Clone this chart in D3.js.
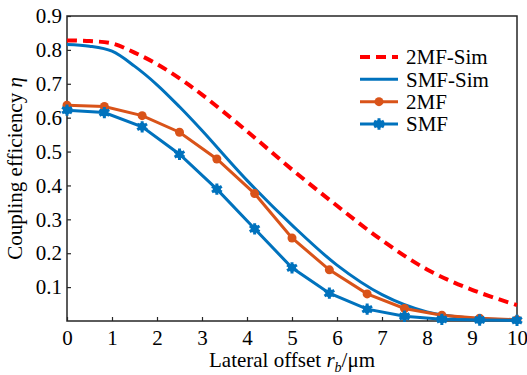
<!DOCTYPE html>
<html>
<head>
<meta charset="utf-8">
<script src="https://cdn.jsdelivr.net/npm/d3@7"></script>
<style>
  body { margin: 0; background: #fff; }
  svg { display: block; }
</style>
</head>
<body>
<div id="chart"></div>
<script>
// simulated curves
const simX = [0, 0.5, 1, 1.5, 2, 2.5, 3, 4, 5, 6, 7, 8, 9, 10]
const mf2Sim = [0.828, 0.826, 0.819, 0.792, 0.758, 0.716, 0.668, 0.56, 0.447, 0.34, 0.238, 0.152, 0.092, 0.047]
const smfSim = [0.816, 0.811, 0.796, 0.752, 0.697, 0.632, 0.562, 0.415, 0.283, 0.165, 0.078, 0.027, 0.008, 0.003]

// measured points
const expX = [0, 0.83, 1.67, 2.5, 3.33, 4.17, 5, 5.83, 6.67, 7.5, 8.33, 9.17, 10]
const mf2 = [0.637, 0.633, 0.606, 0.557, 0.478, 0.376, 0.245, 0.151, 0.08, 0.037, 0.017, 0.008, 0.004]
const smf = [0.622, 0.615, 0.573, 0.492, 0.389, 0.272, 0.157, 0.082, 0.035, 0.014, 0.005, 0.003, 0.002]

const xTicks = [0, 1, 2, 3, 4, 5, 6, 7, 8, 9, 10]
const yTicks = [0.1, 0.2, 0.3, 0.4, 0.5, 0.6, 0.7, 0.8, 0.9]
const legendNames = ['2MF-Sim', 'SMF-Sim', '2MF', 'SMF']

const width = 527
const height = 375
const margin = { top: 16, right: 10, bottom: 54, left: 67 }
const font = 'Liberation Serif, DejaVu Serif, serif'
const red = '#ff0000'
const blue = '#0072bd'
const orange = '#d95319'
const axisColor = '#262626'

const svg = d3.select('#chart')
  .append('svg')
  .attr('width', width)
  .attr('height', height)
  .attr('font-family', font)
  .attr('font-size', 21)

const x = d3.scaleLinear().domain([0, 10]).range([margin.left, width - margin.right])
const y = d3.scaleLinear().domain([0, 0.9]).range([height - margin.bottom, margin.top])

// axes (ticks pointing inward)
const xAxis = svg.append('g')
  .attr('transform', `translate(0,${y(0)})`)
  .call(d3.axisBottom(x).tickValues(xTicks).tickSizeInner(-4).tickSizeOuter(0).tickPadding(9).tickFormat(d3.format('d')))
const yAxis = svg.append('g')
  .attr('transform', `translate(${x(0)},0)`)
  .call(d3.axisLeft(y).tickValues(yTicks).tickSizeInner(-4).tickSizeOuter(0).tickPadding(5).tickFormat(d3.format('.1f')))

for (const ax of [xAxis, yAxis]) {
  ax.attr('font-family', font).attr('font-size', 21)
  ax.select('.domain').remove()
  ax.selectAll('line').attr('stroke', axisColor).attr('stroke-width', 1.2)
  ax.selectAll('text').attr('fill', '#000')
}
xAxis.selectAll('text').attr('dy', '0.71em')

// box
svg.append('rect')
  .attr('x', x(0))
  .attr('y', y(0.9))
  .attr('width', x(10) - x(0))
  .attr('height', y(0) - y(0.9))
  .attr('fill', 'none')
  .attr('stroke', axisColor)
  .attr('stroke-width', 1.5)

// lines
const simLine = d3.line().x(d => x(d[0])).y(d => y(d[1])).curve(d3.curveCatmullRom.alpha(0.5))
const expLine = d3.line().x(d => x(d[0])).y(d => y(d[1]))

svg.append('path')
  .datum(d3.zip(simX, mf2Sim))
  .attr('d', simLine)
  .attr('fill', 'none')
  .attr('stroke', red)
  .attr('stroke-width', 4)
  .attr('stroke-dasharray', '10,6')

svg.append('path')
  .datum(d3.zip(simX, smfSim))
  .attr('d', simLine)
  .attr('fill', 'none')
  .attr('stroke', blue)
  .attr('stroke-width', 3)

svg.append('path')
  .datum(d3.zip(expX, mf2))
  .attr('d', expLine)
  .attr('fill', 'none')
  .attr('stroke', orange)
  .attr('stroke-width', 3)

svg.selectAll('circle.mf2')
  .data(d3.zip(expX, mf2))
  .enter()
  .append('circle')
  .classed('mf2', true)
  .attr('cx', d => x(d[0]))
  .attr('cy', d => y(d[1]))
  .attr('r', 4.5)
  .attr('fill', orange)

svg.append('path')
  .datum(d3.zip(expX, smf))
  .attr('d', expLine)
  .attr('fill', 'none')
  .attr('stroke', blue)
  .attr('stroke-width', 3)

const star = d3.symbol().type(d3.symbolAsterisk).size(90)
function drawStar(sel) {
  sel.append('circle').attr('r', 4).attr('fill', blue)
  sel.append('path').attr('d', star).attr('fill', 'none').attr('stroke', blue).attr('stroke-width', 3)
}

svg.selectAll('g.smf')
  .data(d3.zip(expX, smf))
  .enter()
  .append('g')
  .classed('smf', true)
  .attr('transform', d => `translate(${x(d[0])},${y(d[1])})`)
  .call(drawStar)

// legend
const legendStyles = [
  { color: red, dash: '10,6', width: 4, marker: null },
  { color: blue, dash: null, width: 3, marker: null },
  { color: orange, dash: null, width: 3, marker: 'circle' },
  { color: blue, dash: null, width: 3, marker: 'star' }
]
const legendY = d3.scalePoint().domain(legendNames).range([57, 124])

const lg = svg.selectAll('g.legend')
  .data(legendNames)
  .enter()
  .append('g')
  .classed('legend', true)
  .attr('transform', d => `translate(360,${legendY(d)})`)

lg.append('line')
  .attr('x1', 0)
  .attr('x2', 38)
  .attr('stroke', (d, i) => legendStyles[i].color)
  .attr('stroke-width', (d, i) => legendStyles[i].width)
  .attr('stroke-dasharray', (d, i) => legendStyles[i].dash)

lg.filter((d, i) => legendStyles[i].marker === 'circle')
  .append('circle')
  .attr('cx', 19)
  .attr('r', 4.5)
  .attr('fill', orange)

lg.filter((d, i) => legendStyles[i].marker === 'star')
  .append('g')
  .attr('transform', 'translate(19,0)')
  .call(drawStar)

lg.append('text')
  .attr('x', 46)
  .attr('dy', '0.35em')
  .text(d => d)

// axis titles
const xTitle = svg.append('text')
  .attr('x', (x(0) + x(10)) / 2)
  .attr('y', 367)
  .attr('text-anchor', 'middle')
xTitle.append('tspan').text('Lateral offset ')
xTitle.append('tspan').attr('font-style', 'italic').text('r')
xTitle.append('tspan').attr('font-style', 'italic').attr('font-size', 14).attr('dy', 5).text('b')
xTitle.append('tspan').attr('dy', -5).text('/μm')

const yTitle = svg.append('text')
  .attr('transform', `translate(22,${(y(0) + y(0.9)) / 2}) rotate(-90)`)
  .attr('text-anchor', 'middle')
yTitle.append('tspan').text('Coupling efficiency ')
yTitle.append('tspan').attr('font-style', 'italic').text('η')
</script>
</body>
</html>
